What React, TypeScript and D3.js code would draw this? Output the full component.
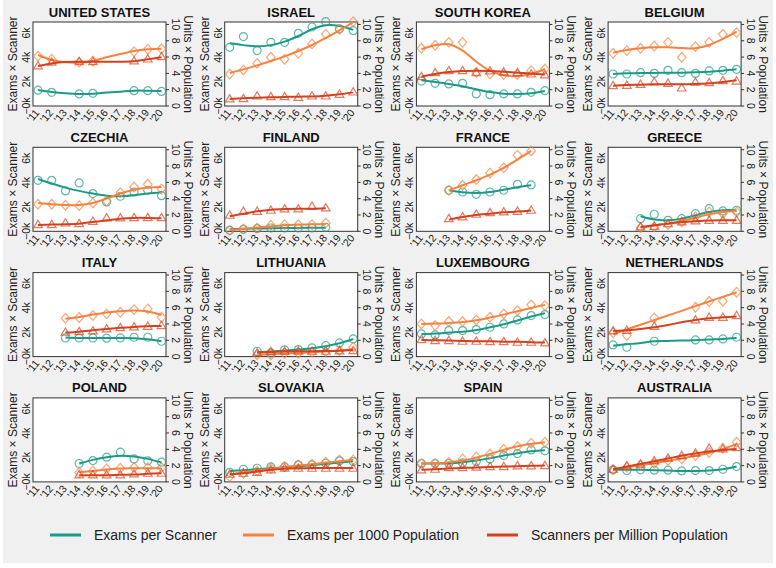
import React from "react";
import * as d3 from "d3";

const years = [2011, 2012, 2013, 2014, 2015, 2016, 2017, 2018, 2019, 2020];
const yearLabels = ["'11", "'12", "'13", "'14", "'15", "'16", "'17", "'18", "'19", "'20"];
const countries = [
  "UNITED STATES", "ISRAEL", "SOUTH KOREA", "BELGIUM",
  "CZECHIA", "FINLAND", "FRANCE", "GREECE",
  "ITALY", "LITHUANIA", "LUXEMBOURG", "NETHERLANDS",
  "POLAND", "SLOVAKIA", "SPAIN", "AUSTRALIA",
];
const leftTicks = [0, 2, 4, 6];
const leftTickLabels = ["\u22120k", "2k", "4k", "6k"];
const rightTicks = [0, 2, 4, 6, 8, 10];

const N = null;
// values in thousands on the left axis
const examsPerScanner = [
  [1.3, 1.12, N, 0.99, 1.04, N, N, 1.26, 1.26, 1.2],
  [4.82, 5.7, 4.55, 5.23, 5.23, 5.97, 6.49, 6.93, 6.33, 6.19],
  [2.05, 1.86, 1.81, 1.86, 0.99, 0.93, 0.99, 0.99, 1.12, 1.26],
  [2.63, 2.63, 2.74, 2.68, 2.93, 2.74, 2.68, 2.88, 2.93, 3.01],
  [4.19, 4.19, 3.32, 3.97, 3.1, 2.41, 2.88, 3.23, 3.37, 2.93],
  [0.08, 0.16, 0.22, 0.27, 0.27, 0.27, 0.27, 0.33, N, N],
  [N, N, 3.37, 3.23, 3.04, 3.23, 3.37, 3.86, 3.81, N],
  [N, N, 1.04, 1.4, 0.9, 1.04, 1.45, 1.86, 1.67, 1.73],
  [N, N, 1.53, 1.53, 1.53, 1.51, 1.53, 1.59, 1.59, 1.26],
  [N, N, 0.44, 0.3, 0.55, 0.58, 0.71, 0.9, 1.12, 1.45],
  [1.86, 1.78, 2.14, 2.14, 2.22, 2.41, 2.68, 3.01, 3.37, 3.45],
  [0.96, 0.77, N, 1.26, N, N, 1.37, 1.37, 1.45, 1.59],
  [N, N, N, 1.51, 1.75, 2.03, 2.44, 1.89, 1.73, 1.62],
  [0.79, 1.04, 1.12, 1.23, 1.23, 1.4, 1.4, 1.53, 1.73, 1.67],
  [1.51, 1.51, 1.51, 1.56, 1.67, 1.89, 2.16, 2.33, 2.63, 2.55],
  [0.99, 0.93, 0.99, 0.96, 0.96, 0.9, 0.93, 0.93, 1.04, 1.26],
];
const examsPerScannerFit = [
  [1.31, 1.15, 1.04, 0.99, 1.01, 1.1, 1.18, 1.26, 1.26, 1.23],
  [5.15, 5.0, 4.9, 5.0, 5.29, 5.75, 6.3, 6.63, 6.58, 6.25],
  [2.11, 1.97, 1.81, 1.62, 1.37, 1.15, 1.01, 0.99, 1.04, 1.23],
  [2.63, 2.68, 2.71, 2.71, 2.74, 2.74, 2.77, 2.82, 2.9, 3.01],
  [4.3, 3.92, 3.59, 3.32, 3.1, 2.93, 2.88, 2.96, 3.1, 3.21],
  [0.16, 0.2, 0.23, 0.25, 0.27, 0.28, 0.29, 0.3, N, N],
  [N, N, 3.37, 3.21, 3.15, 3.23, 3.42, 3.62, 3.78, N],
  [N, N, 1.23, 0.96, 0.9, 1.04, 1.32, 1.59, 1.73, 1.73],
  [N, N, 1.56, 1.53, 1.53, 1.53, 1.53, 1.51, 1.42, 1.26],
  [N, N, 0.36, 0.41, 0.49, 0.58, 0.68, 0.85, 1.1, 1.45],
  [1.84, 1.89, 1.97, 2.05, 2.19, 2.41, 2.66, 2.96, 3.29, 3.56],
  [0.9, 1.01, 1.12, 1.26, 1.29, 1.32, 1.34, 1.4, 1.45, 1.53],
  [N, N, N, 1.51, 1.81, 2.03, 2.14, 2.08, 1.89, 1.59],
  [0.9, 0.96, 1.04, 1.12, 1.21, 1.29, 1.37, 1.48, 1.59, 1.7],
  [1.51, 1.51, 1.53, 1.62, 1.75, 1.95, 2.16, 2.36, 2.52, 2.6],
  [0.99, 0.99, 0.99, 0.96, 0.93, 0.9, 0.9, 0.93, 1.04, 1.26],
];
const examsPer1000 = [
  [4.1, 3.84, N, 3.6, 3.7, N, N, 4.47, 4.66, 4.7],
  [2.63, 2.96, 3.5, 4.0, 3.84, 4.33, 5.1, 5.9, 6.3, 6.93],
  [4.74, 4.99, 5.23, 5.23, 2.77, 2.63, 2.58, 2.58, 2.9, 3.04],
  [4.33, 4.55, 4.74, 4.93, 5.23, 4.0, 4.88, 5.23, 5.89, 6.03],
  [2.22, 2.22, 2.14, 2.11, 2.33, 2.49, 3.18, 3.64, 3.86, 3.48],
  [0.08, 0.19, 0.27, 0.49, 0.55, 0.55, 0.55, 0.68, N, N],
  [N, N, 3.37, 3.78, 4.25, 4.79, 5.21, 6.25, 6.6, N],
  [N, N, 0.3, 0.36, 0.55, 0.77, 1.18, 1.59, 1.45, 1.59],
  [N, N, 3.15, 3.21, 3.37, 3.51, 3.64, 3.86, 3.92, 3.23],
  [N, N, 0.16, 0.14, 0.27, 0.3, 0.36, 0.41, 0.49, 0.77],
  [2.68, 2.55, 2.88, 2.88, 3.01, 3.23, 3.51, 3.78, 4.25, 4.19],
  [1.95, 1.73, N, 3.18, N, N, 4.05, 4.52, 4.55, 5.29],
  [N, N, N, 0.77, 0.9, 1.07, 1.12, 1.18, 1.18, 1.18],
  [0.44, 0.71, 0.9, 1.12, 1.26, 1.4, 1.45, 1.62, 1.81, 1.81],
  [1.51, 1.51, 1.62, 1.89, 2.05, 2.3, 2.68, 2.9, 3.18, 3.26],
  [0.99, 1.21, 1.4, 1.51, 1.75, 1.89, 2.16, 2.41, 2.77, 3.26],
];
const examsPer1000Fit = [
  [4.19, 3.78, 3.59, 3.56, 3.7, 4.0, 4.27, 4.52, 4.66, 4.71],
  [2.71, 3.01, 3.34, 3.7, 4.08, 4.52, 5.01, 5.59, 6.22, 6.88],
  [4.66, 4.99, 5.07, 4.55, 3.64, 2.9, 2.52, 2.44, 2.63, 3.04],
  [4.38, 4.6, 4.74, 4.82, 4.82, 4.77, 4.74, 5.01, 5.51, 6.11],
  [2.33, 2.22, 2.16, 2.16, 2.33, 2.68, 3.1, 3.42, 3.59, 3.64],
  [0.1, 0.2, 0.32, 0.42, 0.5, 0.54, 0.57, 0.6, N, N],
  [N, N, 3.37, 3.78, 4.19, 4.66, 5.21, 5.89, 6.6, N],
  [N, N, 0.3, 0.47, 0.63, 0.85, 1.12, 1.4, 1.59, 1.67],
  [N, N, 3.1, 3.26, 3.45, 3.62, 3.73, 3.78, 3.7, 3.42],
  [N, N, 0.15, 0.2, 0.25, 0.3, 0.35, 0.42, 0.5, 0.6],
  [2.68, 2.71, 2.77, 2.85, 2.99, 3.21, 3.45, 3.73, 4.0, 4.25],
  [1.86, 2.24, 2.62, 3.0, 3.38, 3.76, 4.15, 4.53, 4.91, 5.29],
  [N, N, N, 0.79, 0.9, 1.01, 1.1, 1.12, 1.12, 1.12],
  [0.63, 0.77, 0.93, 1.07, 1.21, 1.34, 1.45, 1.59, 1.7, 1.81],
  [1.51, 1.53, 1.62, 1.75, 2.0, 2.3, 2.63, 2.93, 3.12, 3.26],
  [1.07, 1.21, 1.37, 1.53, 1.73, 1.92, 2.14, 2.38, 2.71, 3.1],
];
const scannersPerMillion = [
  [3.3, 3.6, N, 3.64, 3.64, N, N, 3.7, 3.86, 4.05],
  [0.58, 0.6, 0.82, 0.77, 0.77, 0.71, 0.82, 0.82, 0.96, 1.15],
  [2.41, 2.74, 2.9, 2.9, 2.74, 2.88, 2.79, 2.74, 2.63, 2.55],
  [1.67, 1.7, 1.78, 1.97, 1.86, 1.48, 1.95, 1.92, 2.08, 2.05],
  [0.55, 0.55, 0.68, 0.63, 0.82, 1.1, 1.1, 1.12, 1.12, 1.12],
  [1.32, 1.64, 1.64, 1.73, 1.84, 1.84, 2.05, 1.92, N, N],
  [N, N, 1.04, 1.18, 1.4, 1.53, 1.59, 1.64, 1.73, N],
  [N, N, 0.36, 0.41, 0.63, 0.77, 0.85, 0.9, 0.9, 0.9],
  [N, N, 2.0, 2.05, 2.11, 2.27, 2.38, 2.44, 2.49, 2.55],
  [N, N, 0.3, 0.41, 0.44, 0.44, 0.44, 0.44, 0.47, 0.49],
  [1.4, 1.32, 1.32, 1.26, 1.26, 1.23, 1.23, 1.18, 1.18, 1.12],
  [2.11, 2.16, N, 2.49, N, N, 3.01, 3.23, 3.23, 3.37],
  [N, N, N, 0.58, 0.58, 0.58, 0.58, 0.66, 0.71, 0.71],
  [0.63, 0.71, 0.79, 0.99, 1.12, 1.12, 1.12, 1.12, 1.12, 1.12],
  [0.99, 1.04, 1.18, 1.18, 1.21, 1.26, 1.26, 1.32, 1.32, 1.34],
  [1.04, 1.32, 1.45, 1.73, 1.95, 2.16, 2.36, 2.77, 2.71, 2.82],
];
const scannersPerMillionFit = [
  [3.29, 3.5, 3.62, 3.64, 3.64, 3.64, 3.64, 3.67, 3.84, 4.0],
  [0.58, 0.63, 0.68, 0.71, 0.74, 0.77, 0.79, 0.85, 0.96, 1.12],
  [2.41, 2.63, 2.79, 2.88, 2.9, 2.88, 2.82, 2.74, 2.66, 2.58],
  [1.67, 1.73, 1.75, 1.78, 1.78, 1.78, 1.81, 1.86, 1.97, 2.11],
  [0.52, 0.55, 0.58, 0.63, 0.77, 0.9, 1.04, 1.1, 1.1, 1.07],
  [1.23, 1.45, 1.64, 1.78, 1.84, 1.86, 1.86, 1.89, N, N],
  [N, N, 0.96, 1.18, 1.34, 1.45, 1.56, 1.62, 1.7, N],
  [N, N, 0.36, 0.49, 0.63, 0.74, 0.82, 0.88, 0.9, 0.9],
  [N, N, 1.97, 2.05, 2.16, 2.27, 2.36, 2.44, 2.49, 2.52],
  [N, N, 0.33, 0.38, 0.41, 0.43, 0.44, 0.46, 0.49, 0.55],
  [1.37, 1.34, 1.32, 1.29, 1.26, 1.26, 1.23, 1.21, 1.18, 1.15],
  [2.11, 2.16, 2.27, 2.41, 2.6, 2.82, 3.01, 3.15, 3.23, 3.29],
  [N, N, N, 0.55, 0.55, 0.55, 0.58, 0.6, 0.66, 0.71],
  [0.63, 0.71, 0.85, 0.99, 1.07, 1.12, 1.15, 1.15, 1.15, 1.15],
  [0.99, 1.04, 1.1, 1.15, 1.18, 1.23, 1.26, 1.29, 1.32, 1.34],
  [1.04, 1.26, 1.48, 1.7, 1.92, 2.14, 2.33, 2.49, 2.63, 2.71],
];

const series = [
  { name: "Exams per Scanner", pts: examsPerScanner, fit: examsPerScannerFit, color: "#1b9a85", shape: "circle" },
  { name: "Exams per 1000 Population", pts: examsPer1000, fit: examsPer1000Fit, color: "#f5823f", shape: "diamond" },
  { name: "Scanners per Million Population", pts: scannersPerMillion, fit: scannersPerMillionFit, color: "#d6401d", shape: "triangle" },
];

const FONT = "'Liberation Sans', Arial, Helvetica, sans-serif";
const COL_X0 = 33, COL_STEP = 191.7, PLOT_W = 133;
const ROW_Y0 = 22, ROW_STEP = 125.3, PLOT_H = 84;

const shapes: Record<string, string> = {
  circle: "M-4,0A4,4 0 1,0 4,0A4,4 0 1,0 -4,0Z",
  diamond: "M0,-4.8L4.3,0L0,4.8L-4.3,0Z",
  triangle: "M0,-4.3L4.3,3L-4.3,3Z",
};

function Panel({ idx }: { idx: number }) {
  const col = idx % 4;
  const row = Math.floor(idx / 4);
  const x0 = COL_X0 + col * COL_STEP;
  const y0 = ROW_Y0 + row * ROW_STEP;

  const x = d3.scaleLinear().domain([2011, 2020]).range([5, PLOT_W - 4.5]);
  const yL = d3.scaleLinear().domain([0, 6.9]).range([PLOT_H, 0]);
  const yR = d3.scaleLinear().domain([0, 10.3]).range([PLOT_H, 0]);

  const lineGen = d3
    .line<number | null>()
    .defined((d) => d !== null)
    .x((_, i) => x(years[i]))
    .y((d) => yL(d as number))
    .curve(d3.curveCatmullRom);

  return (
    <g transform={`translate(${x0},${y0})`} fontFamily={FONT}>
      <text x={PLOT_W / 2} y={-5.5} textAnchor="middle" fontSize={13} fontWeight="bold" fill="#111">
        {countries[idx]}
      </text>
      <rect x={0} y={0} width={PLOT_W} height={PLOT_H} fill="#fff" stroke="#333" strokeWidth={1} />

      {/* left axis */}
      {leftTicks.map((t, i) => (
        <text key={t} transform={`translate(-3,${yL(t)}) rotate(-90)`} textAnchor="middle" fontSize={10.5} fill="#222">
          {leftTickLabels[i]}
        </text>
      ))}
      <text transform={`translate(-16,${PLOT_H / 2}) rotate(-90)`} textAnchor="middle" fontSize={12} fill="#222">
        Exams × Scanner
      </text>

      {/* right axis */}
      {rightTicks.map((t) => (
        <g key={t}>
          <line x1={PLOT_W} x2={PLOT_W + 3} y1={yR(t)} y2={yR(t)} stroke="#333" />
          <text transform={`translate(${PLOT_W + 5.5},${yR(t)}) rotate(90)`} textAnchor="middle" fontSize={10.5} fill="#222">
            {t}
          </text>
        </g>
      ))}
      <text transform={`translate(${PLOT_W + 17.5},${PLOT_H / 2}) rotate(90)`} textAnchor="middle" fontSize={12} fill="#222">
        Units × Population
      </text>

      {/* bottom axis */}
      {years.map((yr, i) => (
        <text key={yr} transform={`translate(${x(yr) + 2},${PLOT_H + 7}) rotate(-50)`} textAnchor="end" fontSize={10.5} fill="#222">
          {yearLabels[i]}
        </text>
      ))}

      {series.map((s) => (
        <g key={s.name}>
          <path d={lineGen(s.fit[idx]) || ""} fill="none" stroke={s.color} strokeWidth={2} />
          {s.pts[idx].map((v, i) =>
            v === null ? null : (
              <path
                key={i}
                d={shapes[s.shape]}
                transform={`translate(${x(years[i])},${yL(v)})`}
                fill="none"
                stroke={s.color}
                strokeOpacity={0.7}
                strokeWidth={1.2}
              />
            )
          )}
        </g>
      ))}
    </g>
  );
}

const legendX = [50, 243, 487];

export default function App() {
  return (
    <svg width={776} height={568} style={{ position: "absolute", left: 0, top: 0 }}>
      <rect x={0} y={0} width={776} height={568} fill="#fff" />
      <rect x={3} y={0} width={770} height={563} fill="#f0f0f0" />
      {countries.map((c, i) => (
        <Panel key={c} idx={i} />
      ))}
      <g fontFamily={FONT}>
        {series.map((s, i) => (
          <g key={s.name} transform={`translate(${legendX[i]},535)`}>
            <line x1={0} x2={31} y1={0} y2={0} stroke={s.color} strokeWidth={3} />
            <text x={44} y={5} fontSize={14} fill="#222">
              {s.name}
            </text>
          </g>
        ))}
      </g>
    </svg>
  );
}
